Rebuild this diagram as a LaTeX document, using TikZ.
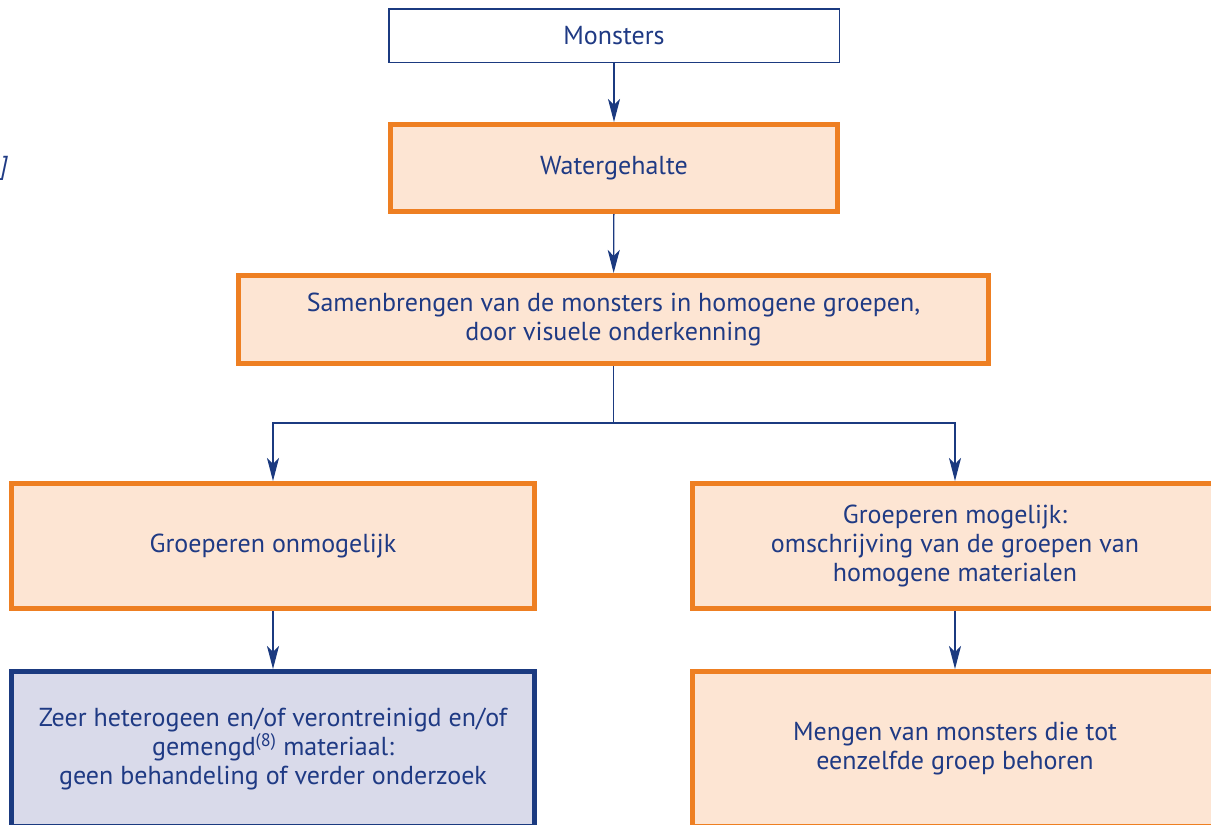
\documentclass[tikz,border=0pt]{standalone}
\usepackage{fontspec}
\setmainfont{PT Sans}
\usetikzlibrary{arrows.meta}
\definecolor{tblue}{HTML}{1F3A84}
\definecolor{lblue}{HTML}{1B3A80}
\definecolor{orng}{HTML}{EE7F22}
\definecolor{peach}{HTML}{FDE5D3}
\definecolor{lav}{HTML}{D9DAEA}
\tikzset{
  base/.style={rectangle, align=center, text=tblue, font=\fontsize{26}{29}\selectfont, inner sep=0pt},
  plainbox/.style={base, draw=lblue, line width=1.5pt, fill=white},
  orbox/.style={base, draw=orng, line width=5pt, fill=peach},
  bluebox/.style={base, draw=lblue, line width=5pt, fill=lav},
  conn/.style={draw=lblue, line width=1.3pt, -{Stealth[length=23pt,width=12pt,inset=6pt]}},
  plainline/.style={draw=lblue, line width=1.3pt}
}
\begin{document}
\begin{tikzpicture}[x=1pt,y=-1pt]
\useasboundingbox (0,0) rectangle (1211,825);
\node[text=tblue, font=\fontsize{26}{29}\selectfont\itshape, anchor=east, inner sep=0pt] (br) at (8,168) {]};
\node[plainbox, minimum width=450.5pt, minimum height=53.5pt] (mon) at (614,35.5) {Monsters};
\node[orbox, minimum width=447pt, minimum height=87pt] (wat) at (614,168) {Watergehalte};
\node[orbox, minimum width=750pt, minimum height=88pt] (sam) at (613.5,319.5) {Samenbrengen van de monsters in homogene groepen,\\door visuele onderkenning};
\node[orbox, minimum width=523pt, minimum height=125pt] (gon) at (273,546) {Groeperen onmogelijk};
\node[orbox, minimum width=525pt, minimum height=125pt] (gmo) at (955,546) {Groeperen mogelijk:\\omschrijving van de groepen van\\homogene materialen};
\node[bluebox, minimum width=523pt, minimum height=155pt] (zeer) at (273,749) {Zeer heterogeen en/of verontreinigd en/of\\gemengd\textsuperscript{(8)} materiaal:\\geen behandeling of verder onderzoek};
\node[orbox, minimum width=525pt, minimum height=155pt] (men) at (955,749) {Mengen van monsters die tot\\eenzelfde groep behoren};
\coordinate (j) at (613.5,423);
\draw[conn] (mon) -- (wat);
\draw[conn] (wat) -- (sam);
\draw[plainline] (sam.south) -- (j);
\draw[conn] (j) -| (gon.north);
\draw[conn] (j) -| (gmo.north);
\draw[conn] (gon) -- (zeer);
\draw[conn] (gmo) -- (men);
\end{tikzpicture}
\end{document}
